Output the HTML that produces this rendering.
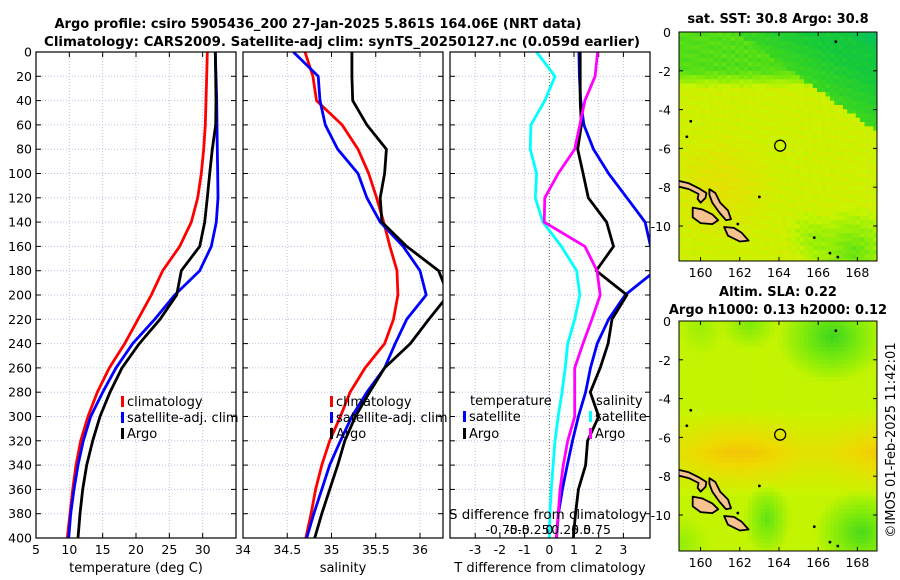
<!DOCTYPE html>
<html><head><meta charset="utf-8"><style>
html,body{margin:0;padding:0;background:#fff;}
svg{display:block;font-family:"DejaVu Sans","Liberation Sans",sans-serif;}
</style></head><body>
<svg id="chart" width="900" height="580" viewBox="0 0 900 580" xmlns="http://www.w3.org/2000/svg">
<g id="titles" font-weight="bold" font-size="13" text-anchor="middle">
<text x="318" y="28" textLength="527" lengthAdjust="spacingAndGlyphs">Argo profile: csiro 5905436_200 27-Jan-2025 5.861S 164.06E (NRT data)</text>
<text x="342" y="46" textLength="596" lengthAdjust="spacingAndGlyphs">Climatology: CARS2009. Satellite-adj clim: synTS_20250127.nc (0.059d earlier)</text>
<text x="778" y="23">sat. SST: 30.8 Argo: 30.8</text>
<text x="778" y="296">Altim. SLA: 0.22</text>
<text x="778" y="314">Argo h1000: 0.13 h2000: 0.12</text>
</g>
<text x="0" y="0" transform="translate(895,440) rotate(-90)" text-anchor="middle" font-size="13">©IMOS 01-Feb-2025 11:42:01</text>
<g id="plots"></g>
</svg>
<script>
const depths=[0,20,40,60,80,100,120,140,160,180,200,220,240,260,280,300,320,340,360,380,400];
const tempClim=[30.7,30.6,30.5,30.4,30.15,29.8,29.25,28.3,26.55,24.0,22.3,20.3,18.3,16.0,14.2,12.8,11.7,11.0,10.5,10.1,9.7];
const tempSat=[31.9,32.0,32.1,32.15,32.2,32.25,32.3,32.05,31.3,29.55,25.8,22.8,19.5,17.0,15.0,13.2,12.1,11.3,10.7,10.2,9.9];
const tempArgo=[31.9,31.95,32.0,31.95,31.45,31.05,30.7,30.3,29.55,26.8,26.1,23.6,20.5,17.9,16.1,14.6,13.5,12.6,12.0,11.6,11.3];
const salClim=[34.70,34.79,34.83,35.12,35.30,35.42,35.51,35.59,35.66,35.74,35.75,35.70,35.60,35.38,35.21,35.10,34.98,34.89,34.82,34.77,34.71];
const salSat=[34.57,34.85,34.87,34.93,35.07,35.30,35.40,35.55,35.81,36.0,36.07,35.85,35.72,35.60,35.40,35.23,35.10,34.98,34.89,34.80,34.72];
const salArgo=[35.23,35.23,35.24,35.40,35.62,35.60,35.55,35.57,35.85,36.21,36.32,36.1,35.89,35.60,35.43,35.27,35.15,35.07,34.98,34.89,34.81];
const dTSat=[1.2,1.22,1.27,1.4,1.79,2.40,3.14,3.88,4.1,4.3,3.07,2.40,1.94,1.67,1.47,1.18,0.94,0.73,0.53,0.37,0.29];
const dTArgo=[1.25,1.25,1.25,1.3,1.15,1.37,1.58,2.32,2.6,1.9,3.14,2.54,2.38,2.06,1.66,2.0,1.55,1.47,1.18,1.06,0.97];
const dSSat=[-0.2,0.09,-0.07,-0.29,-0.30,-0.20,-0.22,-0.10,0.19,0.43,0.48,0.40,0.29,0.25,0.20,0.14,0.09,0.06,0.03,0.01,0.0];
const dSArgo=[0.76,0.72,0.56,0.48,0.40,0.14,-0.07,-0.08,0.56,0.75,0.80,0.67,0.53,0.40,0.40,0.40,0.29,0.22,0.17,0.14,0.11];
const depthTicks=[0,20,40,60,80,100,120,140,160,180,200,220,240,260,280,300,320,340,360,380,400];
const tTicks=[5,10,15,20,25,30];
const sTicks=[34.5,35,35.5,36];
const dTTicks=[-3,-2,-1,0,1,2,3];
const dSTicks=[-0.75,-0.5,-0.25,0,0.25,0.5,0.75];
const dSTickLabels=["-0.75","-0.5","-0.25","0","0.25","0.5","0.75"];
const lonTicks=[160,162,164,166,168];
const latTicks=[0,-2,-4,-6,-8,-10];
const argoLon=164.06, argoLat=-5.861;

const NS="http://www.w3.org/2000/svg";
const root=document.getElementById('plots');
function el(tag,attrs,parent,text){const e=document.createElementNS(NS,tag);for(const k in attrs)e.setAttribute(k,attrs[k]);if(text!==undefined)e.textContent=text;(parent||root).appendChild(e);return e;}
const TOP=52,BOT=538;
function yD(d){return TOP+d*(BOT-TOP)/400;}
function lin(d0,d1,r0,r1){return v=>r0+(v-d0)*(r1-r0)/(d1-d0);}

const panels=[
 {name:'temperature-panel',x0:36,x1:236,sx:lin(5,35,36,236),ticks:tTicks,labels:tTicks.map(String),xlabel:'temperature (deg C)'},
 {name:'salinity-panel',x0:243,x1:443,sx:lin(34,36,243,420),ticks:sTicks,labels:sTicks.map(String),xlabel:'salinity'},
 {name:'difference-panel',x0:450,x1:650,sx:lin(0,3,549.3,623.4),ticks:dTTicks,labels:dTTicks.map(String),xlabel:'T difference from climatology'}
];
const sxS=lin(0,0.75,549.3,597);

panels.forEach((p,pi)=>{
 const g=el('g',{});
 
 
 const cp=el('clipPath',{id:'clip'+pi},g);el('rect',{x:p.x0,y:TOP,width:p.x1-p.x0,height:BOT-TOP},cp);
 depthTicks.forEach(d=>{
  const l=el('line',{x1:p.x0,x2:p.x1,y1:yD(d),y2:yD(d),stroke:'#b9c3e3','stroke-width':1,'stroke-dasharray':'1,2'},g);
  
  
  el('line',{x1:p.x0,x2:p.x0+5,y1:yD(d),y2:yD(d),stroke:'#000'},g);
  el('line',{x1:p.x1-5,x2:p.x1,y1:yD(d),y2:yD(d),stroke:'#000'},g);
  if(pi===0){const t=el('text',{x:p.x0-4,y:yD(d)+4.5,'text-anchor':'end','font-size':12.5},g,String(d));
   
   }
 });
 p.ticks.forEach((v,i)=>{
  const x=p.sx(v);
  const l=el('line',{x1:x,x2:x,y1:TOP,y2:BOT,stroke:(pi===2&&v===0)?'#555':'#b9c3e3','stroke-width':1,'stroke-dasharray':'1,2'},g);
  
  
  el('line',{x1:x,x2:x,y1:BOT,y2:BOT-5,stroke:'#000'},g);
  el('line',{x1:x,x2:x,y1:TOP,y2:TOP+5,stroke:'#000'},g);
  const t=el('text',{x:x,y:554,'text-anchor':'middle','font-size':12.5},g,p.labels[i]);
  
  
 });
 if(pi===1){el('text',{x:p.x0,y:554,'text-anchor':'middle','font-size':12.5},g,'34');}
 const xl=el('text',{x:(p.x0+p.x1)/2,y:572,'text-anchor':'middle','font-size':13},g,p.xlabel);
 
 
 p.g=g;p.cg=el('g',{'clip-path':'url(#clip'+pi+')'},g);
});
function series(p,vals,sx,color,name){
 const pts=vals.map((v,i)=>sx(v).toFixed(1)+','+yD(depths[i]).toFixed(1)).join(' ');
 const pl=el('polyline',{points:pts,fill:'none',stroke:color,'stroke-width':2.8,'stroke-linejoin':'round'},p.cg);
 
 
}
series(panels[0],tempClim,panels[0].sx,'#ff0000','temp-climatology-line');
series(panels[0],tempSat,panels[0].sx,'#0000ff','temp-satellite-line');
series(panels[0],tempArgo,panels[0].sx,'#000000','temp-argo-line');
series(panels[1],salClim,panels[1].sx,'#ff0000','sal-climatology-line');
series(panels[1],salSat,panels[1].sx,'#0000ff','sal-satellite-line');
series(panels[1],salArgo,panels[1].sx,'#000000','sal-argo-line');
series(panels[2],dSSat,sxS,'#00ffff','sdiff-satellite-line');
series(panels[2],dTSat,panels[2].sx,'#0000ff','tdiff-satellite-line');
series(panels[2],dTArgo,panels[2].sx,'#000000','tdiff-argo-line');
series(panels[2],dSArgo,sxS,'#ff00ff','sdiff-argo-line');

const sg=panels[2].g;
el('text',{x:548,y:519,'text-anchor':'middle','font-size':13,textLength:198,lengthAdjust:'spacingAndGlyphs'},sg,'S difference from climatology');
dSTicks.forEach((v,i)=>{el('text',{x:sxS(v),y:534,'text-anchor':'middle','font-size':12.5},sg,dSTickLabels[i]);});

function legend(g,x,y,color,label,name){
 const lg=el('g',{},g);
 
 
 el('rect',{x:x,y:y-10,width:3,height:11,fill:color},lg);
 el('text',{x:x+6,y:y,'font-size':13},lg,label);
}
[[0,121],[1,330]].forEach(([pi,x])=>{
 const g=panels[pi].g;
 legend(g,x,406,'#ff0000','climatology','legend-climatology');
 legend(g,x,422,'#0000ff','satellite-adj. clim','legend-satellite');
 legend(g,x,438,'#000000','Argo','legend-argo');
});
el('text',{x:470,y:405,'font-size':13},sg,'temperature');
legend(sg,463,421,'#0000ff','satellite','legend-t-satellite');
legend(sg,463,438,'#000000','Argo','legend-t-argo');
el('text',{x:596,y:405,'font-size':13},sg,'salinity');
legend(sg,589,421,'#00ffff','satellite','legend-s-satellite');
legend(sg,589,438,'#ff00ff','Argo','legend-s-argo');
panels.forEach(p=>el('rect',{x:p.x0,y:TOP,width:p.x1-p.x0,height:BOT-TOP,fill:'none',stroke:'#000','stroke-width':1.2},p.g));

// maps
const stops=[[0,[0,190,120]],[0.3,[20,200,60]],[0.45,[60,215,30]],[0.6,[130,235,10]],[0.74,[200,245,0]],[0.88,[240,215,0]],[1,[245,170,20]]];
function cmap(v){v=Math.max(0,Math.min(1,v));for(let i=1;i<stops.length;i++){if(v<=stops[i][0]){const a=stops[i-1],b=stops[i];const t=(v-a[0])/(b[0]-a[0]);return 'rgb('+a[1].map((c,k)=>Math.round(c+(b[1][k]-c)*t)).join(',')+')';}}return 'rgb(245,170,20)';}
function noise(lon,lat){return Math.sin(lon*37.1+lat*13.3)*Math.cos(lat*29.7+lon*5.1);}
function bump(lon,lat,cx,cy,rx,ry){return Math.max(0,1-Math.hypot((lon-cx)/rx,(lat-cy)/ry));}
function sstField(lon,lat){
 let v=0.76;
 const tb=Math.max(0,Math.min(1,(lat+2.9)/0.9)); v=v*(1-tb)+0.5*tb;
 const ne=(lon-165.3)+(lat+2.5)*1.4; if(ne>0) v=Math.min(v,0.45-Math.min(0.15,ne*0.04));
 v-=0.25*bump(lon,lat,169,0.2,1.5,1.2);
 v+=0.08*bump(lon,lat,161,-8,3.2,3.2);
 v-=0.22*bump(lon,lat,167.8,-11.3,2.6,2.4);
 v-=0.1*bump(lon,lat,165.5,-10.5,1.2,1.5);
 v+=0.04*noise(lon,lat);
 return v;}
function slaField(lon,lat){
 let v=0.73;
 v+=0.2*Math.max(0,1-Math.abs(lat+6.8)/2.3)*(0.75+0.25*Math.cos((lon-162)*0.8));
 v-=0.28*bump(lon,lat,166.7,-0.8,2.8,2.4);
 v-=0.14*bump(lon,lat,162.5,-0.2,1.5,1.3);
 v-=0.08*bump(lon,lat,160,-0.3,1.2,1.5);
 v-=0.25*bump(lon,lat,168.2,-10.9,2.4,2.2);
 v-=0.2*bump(lon,lat,163.4,-10.2,1.2,2);
 v-=0.1*bump(lon,lat,158.9,-11.5,1.6,1.6);
 return v;}
function map(name,top,bot,field){
 const g=el('g',{});
 
 
 const L=679,R=877,lonMin=158.9,lonMax=169.0,latMin=-11.8;
 const sx=lin(lonMin,lonMax,L,R), sy=lin(0,-10,top,top+194);
 const cid='c'+name;const cp=el('clipPath',{id:cid},g);el('rect',{x:L,y:top,width:R-L,height:bot-top},cp);
 const cg=el('g',{'clip-path':'url(#'+cid+')'},g);
 const step=0.22;
 for(let lo=lonMin;lo<lonMax;lo+=step){for(let la=0.2;la>latMin-0.3;la-=step){
  el('rect',{x:sx(lo).toFixed(1),y:sy(la).toFixed(1),width:4.7,height:4.7,fill:cmap(field(lo+step/2,la-step/2))},cg);}}
 const islands=[
  [[158.8,-7.65],[159.4,-7.8],[159.9,-8.05],[160.3,-8.3],[160.25,-8.55],[160.0,-8.8],[159.85,-8.6],[159.9,-8.35],[159.4,-8.1],[158.8,-7.95]],
  [[160.45,-8.1],[160.75,-8.3],[161.0,-8.8],[161.4,-9.2],[161.55,-9.65],[161.3,-9.7],[160.95,-9.3],[160.6,-8.8],[160.45,-8.4]],
  [[159.6,-9.05],[160.1,-9.15],[160.6,-9.4],[160.9,-9.7],[160.6,-9.9],[160.0,-9.85],[159.6,-9.55]],
  [[161.2,-10.05],[161.7,-10.1],[162.1,-10.35],[162.45,-10.75],[162.0,-10.8],[161.4,-10.5]]];
 islands.forEach(poly=>{const e=el('polygon',{points:poly.map(q=>sx(q[0]).toFixed(1)+','+sy(q[1]).toFixed(1)).join(' '),fill:'#f6c28e',stroke:'#000','stroke-width':1.8,'stroke-linejoin':'round'},cg);
  
  });
 [[166.9,-0.5],[165.8,-10.6],[166.6,-11.4],[167.0,-11.6],[163,-8.5],[159.5,-4.6],[159.3,-5.4],[161.9,-9.9]].forEach(q=>el('circle',{cx:sx(q[0]),cy:sy(q[1]),r:1.4,fill:'#000'},cg));
 const c=el('circle',{cx:sx(argoLon),cy:sy(argoLat),r:5.5,fill:'none',stroke:'#000','stroke-width':1.3},g);
 
 
 el('rect',{x:L,y:top,width:R-L,height:bot-top,fill:'none',stroke:'#000','stroke-width':1},g);
 lonTicks.forEach(v=>{const x=sx(v);el('line',{x1:x,x2:x,y1:bot,y2:bot-4,stroke:'#000'},g);el('line',{x1:x,x2:x,y1:top,y2:top+4,stroke:'#000'},g);
  el('text',{x:x,y:bot+16,'text-anchor':'middle','font-size':12.5},g,String(v));});
 latTicks.forEach(v=>{const y=sy(v);el('line',{x1:L,x2:L+4,y1:y,y2:y,stroke:'#000'},g);el('line',{x1:R-4,x2:R,y1:y,y2:y,stroke:'#000'},g);
  el('text',{x:L-8,y:y+5,'text-anchor':'end','font-size':12.5},g,String(v));});
}
map('sst-map',32,261,sstField);
map('sla-map',321,551,slaField);
</script>
</body></html>
